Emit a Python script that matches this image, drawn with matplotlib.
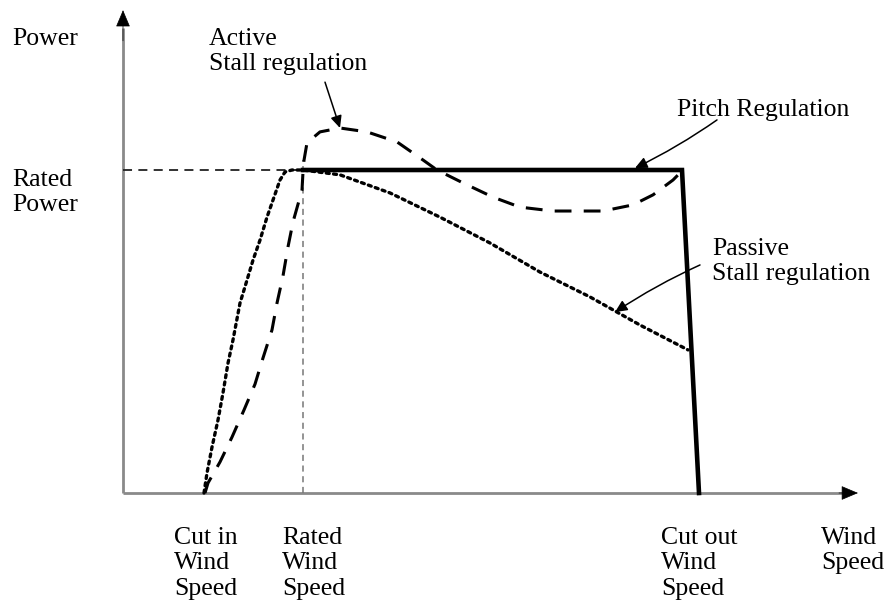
import numpy as np
import matplotlib
matplotlib.use('Agg')
from matplotlib import pyplot as plt

# schematic wind turbine power curves (wind speed in arbitrary units, power as fraction of rated)
cut_in = 4.1
rated_speed = 9.0
cut_out = 28.8
rated_power = 1.0

# active stall regulation (dashed)
active_ws = [4.1, 4.25, 4.85, 5.45, 6.05, 6.6, 7.0, 7.45, 7.7, 8.0, 8.25, 8.5, 8.95, 9.0,
             9.05, 9.2, 9.85, 10.85, 12.2, 13.7, 15.0, 15.7, 17.0, 18.5, 19.85, 21.5, 24.0,
             25.5, 26.5, 27.5, 27.85]
active_p = [0.0, 0.031, 0.096, 0.173, 0.257, 0.337, 0.418, 0.505, 0.588, 0.672, 0.762, 0.839,
            0.938, 0.994, 1.03, 1.084, 1.118, 1.13, 1.118, 1.087, 1.031, 1.0, 0.96, 0.916,
            0.885, 0.873, 0.873, 0.892, 0.923, 0.969, 0.991]

# passive stall regulation (dotted)
passive_ws = [4.05, 4.2, 4.45, 4.75, 5.0, 5.25, 5.5, 5.85, 6.2, 6.5, 6.85, 7.2, 7.5, 7.85,
              8.1, 8.45, 9.0, 10.85, 13.35, 15.85, 18.35, 20.85, 23.35, 25.85, 28.25]
passive_p = [0.0, 0.062, 0.142, 0.226, 0.31, 0.402, 0.474, 0.588, 0.659, 0.721, 0.783, 0.854,
             0.907, 0.969, 0.994, 1.0, 1.0, 0.985, 0.929, 0.854, 0.774, 0.684, 0.607, 0.52,
             0.443]

# pitch regulation (solid)
pitch_ws = [9.0, 27.95, 28.8]
pitch_p = [1.0, 1.0, 0.0]

W, H = 885, 603
fig = plt.figure(figsize=(W / 100, H / 100), dpi=100)
ax = fig.add_axes([0, 0, 1, 1])
# origin of the sketch sits at pixel (123, 493); 20 px per speed unit, 323 px per rated power
ax.set_xlim(-123 / 20, (W - 123) / 20)
ax.set_ylim((493 - H) / 323, 493 / 323)
ax.axis('off')

def px(x, y):
    return (x / W, 1 - y / H)

gray = '#8a8a8a'
# axes: gray shafts, black heads
ax.plot([0, 0], [0, 1.44], color=gray, lw=2, solid_capstyle='butt')
ax.plot([0, 36.2], [0, 0], color=gray, lw=2, solid_capstyle='butt')
head = dict(arrowstyle='-|>,head_length=0.9,head_width=0.38', color='black', lw=0.5,
            shrinkA=0, shrinkB=0, mutation_scale=12)
ax.annotate('', xy=(0, 1.495), xytext=(0, 1.40), arrowprops=head)
ax.annotate('', xy=(36.75, 0), xytext=(35.8, 0), arrowprops=head)

# guide lines at rated power / rated wind speed
ax.plot([0, rated_speed - 0.1], [rated_power, rated_power], color='#222222', lw=1.3,
        ls=(0, (5, 3.5)))
ax.plot([rated_speed, rated_speed], [0, 1.03], color='#777777', lw=1.1, ls=(0, (4, 3)))

ax.plot(passive_ws, passive_p, color='black', lw=2.4, ls=(0, (0.9, 1.3)),
        dash_capstyle='round')
ax.plot(active_ws, active_p, color='black', lw=2.2, ls=(0, (5.5, 4)))
ax.plot(pitch_ws, pitch_p, color='black', lw=3.3, solid_joinstyle='miter')

# annotation arrows
arr = dict(arrowstyle='-|>,head_length=0.6,head_width=0.28', color='black', lw=1.1,
           shrinkA=0, shrinkB=0, mutation_scale=12)
ax.annotate('', xy=(10.85, 1.13), xytext=(10.1, 1.272), arrowprops=arr)
ax.annotate('', xy=(25.6, 1.006), xytext=(29.7, 1.155),
            arrowprops=dict(arr, connectionstyle='arc3,rad=-0.04'))
ax.annotate('', xy=(24.6, 0.56), xytext=(28.85, 0.706),
            arrowprops=dict(arr, connectionstyle='arc3,rad=0.04'))

font = dict(family='Liberation Serif', fontsize=18.5, color='black', va='top', ha='left',
            linespacing=1.2)
texts = [
    ((12, 28), 'Power'),
    ((12, 169), 'Rated\nPower'),
    ((209, 28), 'Active\nStall regulation'),
    ((677, 99), 'Pitch Regulation'),
    ((712, 238), 'Passive\nStall regulation'),
    ((174, 527), 'Cut in\nWind\nSpeed'),
    ((282, 527), 'Rated\nWind\nSpeed'),
    ((661, 527), 'Cut out\nWind\nSpeed'),
    ((821, 527), 'Wind\nSpeed'),
]
for (x, y), s in texts:
    fig.text(*px(x, y), s, **font)

fig.savefig('out.png', dpi=100)
